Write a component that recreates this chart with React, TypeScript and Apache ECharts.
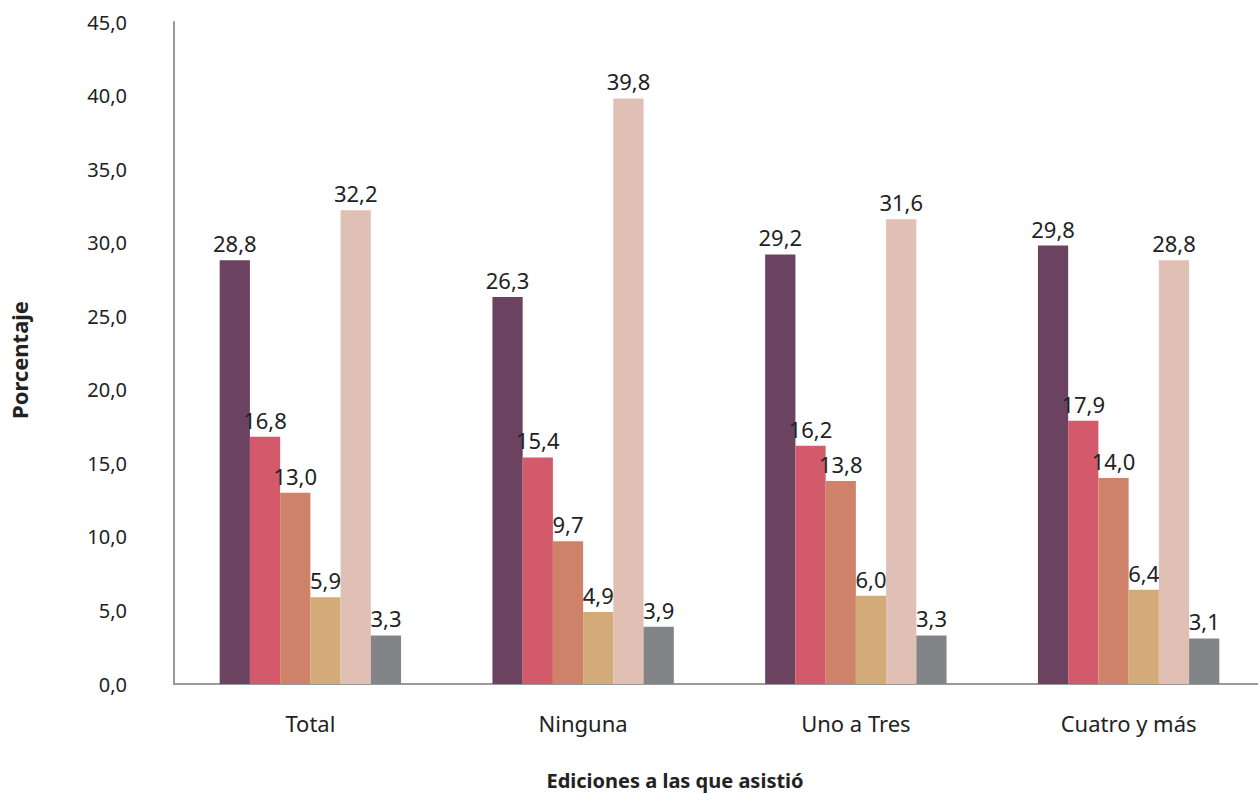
import React, { useEffect, useRef } from "react";
import * as echarts from "echarts";

const categories = ["Total", "Ninguna", "Uno a Tres", "Cuatro y más"];
const seriesA = [28.8, 26.3, 29.2, 29.8];
const seriesB = [16.8, 15.4, 16.2, 17.9];
const seriesC = [13.0, 9.7, 13.8, 14.0];
const seriesD = [5.9, 4.9, 6.0, 6.4];
const seriesE = [32.2, 39.8, 31.6, 28.8];
const seriesF = [3.3, 3.9, 3.3, 3.1];
const seriesData = [seriesA, seriesB, seriesC, seriesD, seriesE, seriesF];
const colors = ["#6B4260", "#D25A6B", "#CD8269", "#D2AB78", "#E0C0B5", "#838487"];

const fmt = (v: number) => v.toFixed(1).replace(".", ",");
const FONT = "'Noto Sans', 'Open Sans', sans-serif";

export default function App() {
  const ref = useRef<HTMLDivElement>(null);
  useEffect(() => {
    if (!ref.current) return;
    const chart = echarts.init(ref.current, null, { renderer: "svg" });
    chart.setOption({
      animation: false,
      textStyle: { fontFamily: FONT },
      grid: {
        left: 174,
        width: 1091,
        top: 22,
        height: 662,
        containLabel: false,
        outerBoundsMode: "none",
      },
      xAxis: {
        type: "category",
        data: categories,
        axisLine: { lineStyle: { color: "#999", width: 2 } },
        axisTick: { show: false },
        axisLabel: { fontSize: 22, color: "#222", margin: 28, fontFamily: FONT },
      },
      yAxis: {
        type: "value",
        min: 0,
        max: 45,
        interval: 5,
        axisLine: { show: true, lineStyle: { color: "#999", width: 2 } },
        axisTick: { show: false },
        splitLine: { show: false },
        axisLabel: {
          fontSize: 20,
          color: "#222",
          margin: 47,
          padding: [5, 0, 0, 0],
          fontFamily: FONT,
          formatter: (v: number) => fmt(v),
        },
      },
      graphic: [
        {
          type: "text",
          x: 675,
          y: 780,
          style: {
            text: "Ediciones a las que asistió",
            fontSize: 20,
            fontWeight: "bold",
            fill: "#222",
            fontFamily: FONT,
            textAlign: "center",
            textVerticalAlign: "middle",
          },
        },
        {
          type: "text",
          x: 19,
          y: 360,
          rotation: Math.PI / 2,
          style: {
            text: "Porcentaje",
            fontSize: 22,
            fontWeight: "bold",
            fill: "#222",
            fontFamily: FONT,
            textAlign: "center",
            textVerticalAlign: "middle",
          },
        },
      ],
      series: seriesData.map((d, i) => ({
        type: "bar",
        data: d,
        barGap: "0%",
        barCategoryGap: "33.5%",
        itemStyle: { color: colors[i] },
        label: {
          show: true,
          position: "top",
          distance: 6,
          fontSize: 22,
          color: "#222",
          fontFamily: FONT,
          formatter: (p: any) => fmt(p.value),
        },
      })),
    });
    return () => chart.dispose();
  }, []);
  return (
    <div
      ref={ref}
      style={{ position: "fixed", left: 0, top: 0, width: 1258, height: 794, background: "#fff" }}
    />
  );
}
